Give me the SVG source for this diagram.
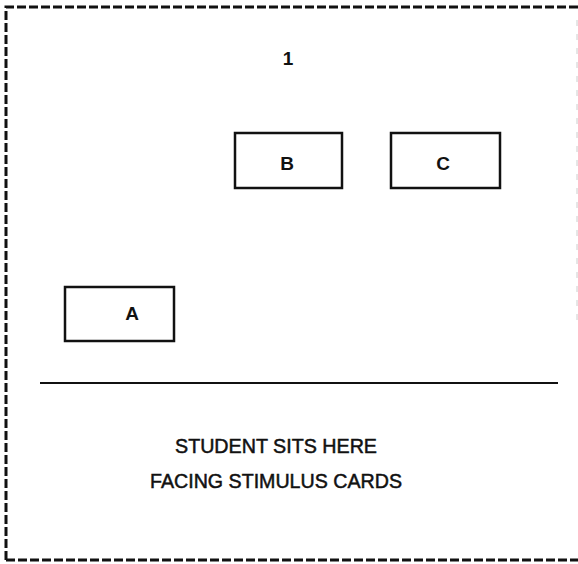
<svg xmlns="http://www.w3.org/2000/svg" width="578" height="564" viewBox="0 0 578 564">
<style>
.card{fill:none;stroke:#111;stroke-width:2.5}
.lbl{font-family:"Liberation Sans",Arial,sans-serif;font-size:19px;font-weight:bold;fill:#111;text-anchor:middle}
.txt{font-family:"Liberation Sans",Arial,sans-serif;font-size:20px;fill:#111;stroke:#111;stroke-width:0.5;text-anchor:middle}
</style>
<rect width="578" height="564" fill="#fff"/>
<g id="border">
<path d="M6,560 L6,7 L578,7" fill="none" stroke="#111" stroke-width="3" stroke-dasharray="9,3"/>
<path d="M6,560 L578,560" fill="none" stroke="#111" stroke-width="3" stroke-dasharray="9,3"/>
<path d="M577,20 L577,320" fill="none" stroke="#ccc" stroke-width="1" stroke-dasharray="6,8"/>
</g>
<g id="marker1"><text class="lbl" x="288" y="65">1</text></g>
<g id="cardB"><rect class="card" x="235" y="133" width="107" height="55"/><text class="lbl" x="287" y="170">B</text></g>
<g id="cardC"><rect class="card" x="391" y="133" width="109" height="55"/><text class="lbl" x="443" y="170">C</text></g>
<g id="cardA"><rect class="card" x="65" y="287" width="109" height="54"/><text class="lbl" x="132" y="320">A</text></g>
<g id="connectors"><line x1="40" y1="383" x2="558" y2="383" stroke="#111" stroke-width="2"/></g>
<g id="student">
<text class="txt" x="276" y="453" textLength="202" lengthAdjust="spacingAndGlyphs">STUDENT SITS HERE</text>
<text class="txt" x="276" y="488" textLength="252" lengthAdjust="spacingAndGlyphs">FACING STIMULUS CARDS</text>
</g>
</svg>
